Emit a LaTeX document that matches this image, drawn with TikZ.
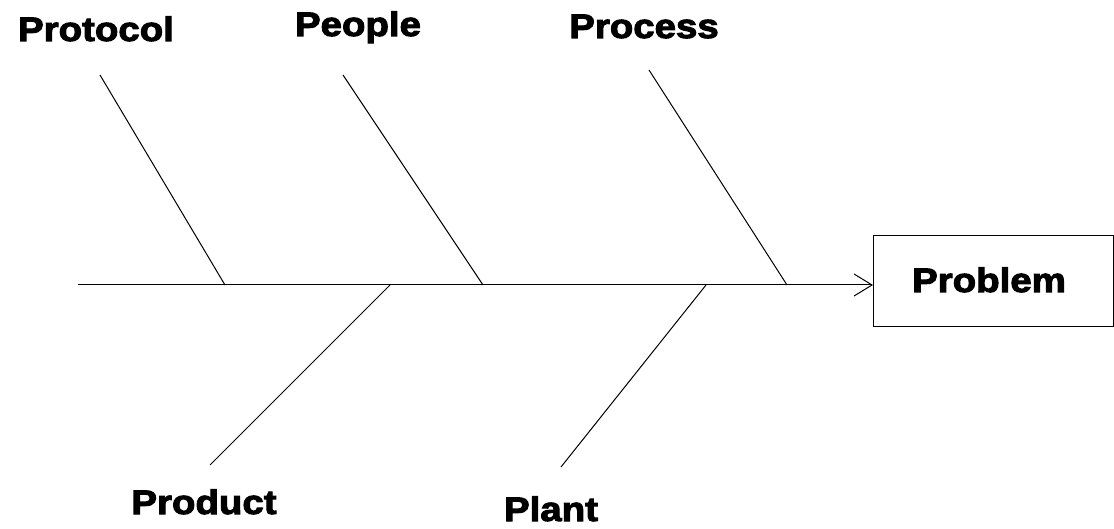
\documentclass[tikz,border=0pt]{standalone}
\usepackage{fontspec}
\setmainfont{Liberation Sans}[BoldFeatures={FakeBold=3,FakeStretch=1.13}]
\usetikzlibrary{arrows.meta}
\tikzset{
  lbl/.style={font=\fontsize{34}{40}\selectfont\bfseries, inner sep=0pt, anchor=base},
  bone/.style={line width=1pt, black},
  spine/.style={line width=1pt, black, -{Straight Barb[length=18pt,width=22pt,line width=1pt]}},
  probbox/.style={draw, line width=1pt, minimum width=240pt, minimum height=91pt, inner sep=0pt}
}
\begin{document}
\begin{tikzpicture}[x=1pt,y=-1pt]
\useasboundingbox (0,0) rectangle (1114,529);
% problem box
\node[probbox, anchor=west] (prob) at (873,281) {};
\node[lbl] (problabel) at (989,292) {Problem};
% spine
\coordinate (tail) at (78,285);
\draw[spine] (tail) -- (prob.west |- tail);
% spine junctions
\coordinate (j1) at (225,285);
\coordinate (j2) at (483,285);
\coordinate (j3) at (787,285);
\coordinate (j4) at (390,285);
\coordinate (j5) at (706,285);
% bone ends
\coordinate (e1) at (100,75);
\coordinate (e2) at (343,75);
\coordinate (e3) at (649,70);
\coordinate (e4) at (210,465);
\coordinate (e5) at (561,467);
\draw[bone] (j1) -- (e1);
\draw[bone] (j2) -- (e2);
\draw[bone] (j3) -- (e3);
\draw[bone] (j4) -- (e4);
\draw[bone] (j5) -- (e5);
% labels
\node[lbl] (protocol) at (96,41) {Protocol};
\node[lbl] (people) at (358,36) {People};
\node[lbl] (process) at (644,38) {Process};
\node[lbl] (product) at (204,514) {Product};
\node[lbl] (plant) at (551,521) {Plant};
\end{tikzpicture}
\end{document}
